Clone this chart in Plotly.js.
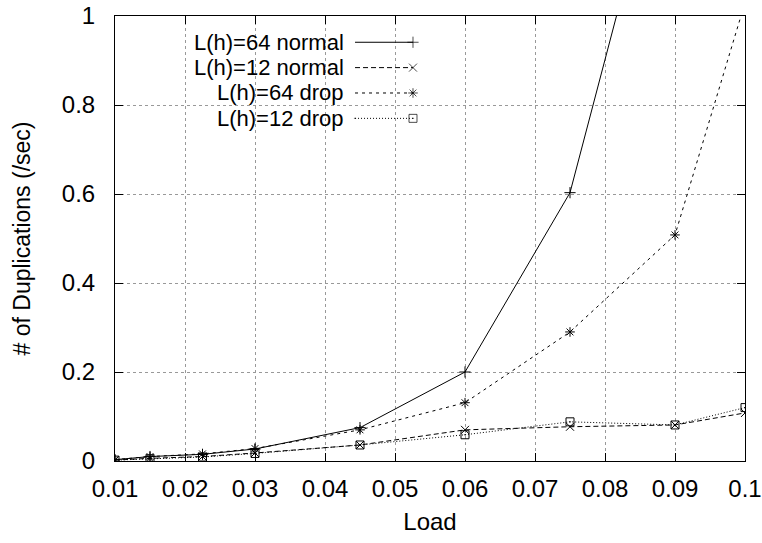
<!DOCTYPE html>
<html>
<head>
<meta charset="utf-8">
<script src="https://cdn.plot.ly/plotly-3.0.1.min.js"></script>
<style>html,body{margin:0;padding:0;background:#fff;}#chart{width:762px;height:543px;}</style>
</head>
<body>
<div id="chart"></div>
<script>
// ---- data ----
const load = [0.01, 0.015, 0.0225, 0.03, 0.045, 0.06, 0.075, 0.09, 0.1];
const l64Normal = [0.003, 0.01, 0.015, 0.027, 0.075, 0.2, 0.603, 1.5, null];
const l12Normal = [0.002, 0.006, 0.01, 0.018, 0.036, 0.07, 0.077, 0.081, 0.108];
const l64Drop   = [0.003, 0.01, 0.016, 0.028, 0.07, 0.131, 0.29, 0.508, 1.03];
const l12Drop   = [0.002, 0.005, 0.009, 0.017, 0.036, 0.059, 0.088, 0.081, 0.12];
const seriesNames = ["L(h)=64 normal", "L(h)=12 normal", "L(h)=64 drop", "L(h)=12 drop"];
const xTickVals = [0.01, 0.02, 0.03, 0.04, 0.05, 0.06, 0.07, 0.08, 0.09, 0.1];
const xTickText = ["0.01", "0.02", "0.03", "0.04", "0.05", "0.06", "0.07", "0.08", "0.09", "0.1"];
const yTickVals = [0, 0.2, 0.4, 0.6, 0.8, 1];
const yTickText = ["0", "0.2", "0.4", "0.6", "0.8", "1"];

// ---- styles ----
const FONT = "Liberation Sans, Arial, sans-serif";
const styles = [
  {dash: "solid",     symbol: "cross-thin-open"},
  {dash: "5px,3px",   symbol: "x-thin-open"},
  {dash: "3px,4px",   symbol: "asterisk-open"},
  {dash: "1px,2px",   symbol: "square-open-dot"}
];
const seriesY = [l64Normal, l12Normal, l64Drop, l12Drop];

const traces = seriesY.map((ys, i) => ({
  x: load, y: ys, type: "scatter", mode: "lines+markers",
  name: seriesNames[i], showlegend: false, cliponaxis: true,
  line: {color: "#000", width: 1, dash: styles[i].dash},
  marker: {symbol: styles[i].symbol, size: 8, color: "#000", line: {color: "#000", width: 1}}
}));

// ---- custom legend (text left of sample, gnuplot style) ----
const legendRowsY = [0.941, 0.884, 0.827, 0.770];
const legendTextX = 0.365, legendLineX0 = 0.381, legendLineX1 = 0.473;
const annotations = [];
seriesNames.forEach((nm, i) => {
  annotations.push({xref: "paper", yref: "paper", x: legendTextX, y: legendRowsY[i],
    xanchor: "right", yanchor: "middle", text: nm, showarrow: false, borderpad: 0,
    font: {family: FONT, size: 22, color: "#000"}});
  traces.push({
    x: [legendLineX0, legendLineX1],
    y: [legendRowsY[i], legendRowsY[i]],
    xaxis: "x2", yaxis: "y2", type: "scatter", mode: "lines+markers", showlegend: false,
    hoverinfo: "skip",
    line: {color: "#000", width: 1, dash: styles[i].dash},
    marker: {symbol: styles[i].symbol, size: [0, 8], color: "#000", line: {color: "#000", width: 1}}
  });
});

const layout = {
  width: 762, height: 543,
  margin: {l: 115, r: 17, t: 16, b: 82, pad: 0},
  paper_bgcolor: "#fff", plot_bgcolor: "#fff",
  font: {family: FONT, size: 24, color: "#000"},
  showlegend: false,
  xaxis: {
    range: [0.01, 0.1], tickvals: xTickVals, ticktext: xTickText,
    showgrid: true, gridcolor: "#999", griddash: "dot", gridwidth: 1,
    zeroline: false, showline: true, linecolor: "#000", linewidth: 1, mirror: "allticks",
    ticks: "inside", ticklen: 8, tickcolor: "#000", tickwidth: 1,
    tickfont: {family: FONT, size: 24}, ticklabelstandoff: 6,
    title: {text: "Load", font: {family: FONT, size: 24}, standoff: 12}
  },
  yaxis: {
    range: [0, 1], tickvals: yTickVals, ticktext: yTickText,
    showgrid: true, gridcolor: "#999", griddash: "dot", gridwidth: 1,
    zeroline: false, showline: true, linecolor: "#000", linewidth: 1, mirror: "allticks",
    ticks: "inside", ticklen: 8, tickcolor: "#000", tickwidth: 1,
    tickfont: {family: FONT, size: 24}, ticklabelstandoff: 14,
    title: {text: "# of Duplications (/sec)", font: {family: FONT, size: 23}, standoff: 24}
  },
  xaxis2: {overlaying: "x", range: [0, 1], visible: false, fixedrange: true},
  yaxis2: {overlaying: "y", range: [0, 1], visible: false, fixedrange: true},
  annotations: annotations
};

Plotly.newPlot("chart", traces, layout, {staticPlot: true, displayModeBar: false});
</script>
</body>
</html>
